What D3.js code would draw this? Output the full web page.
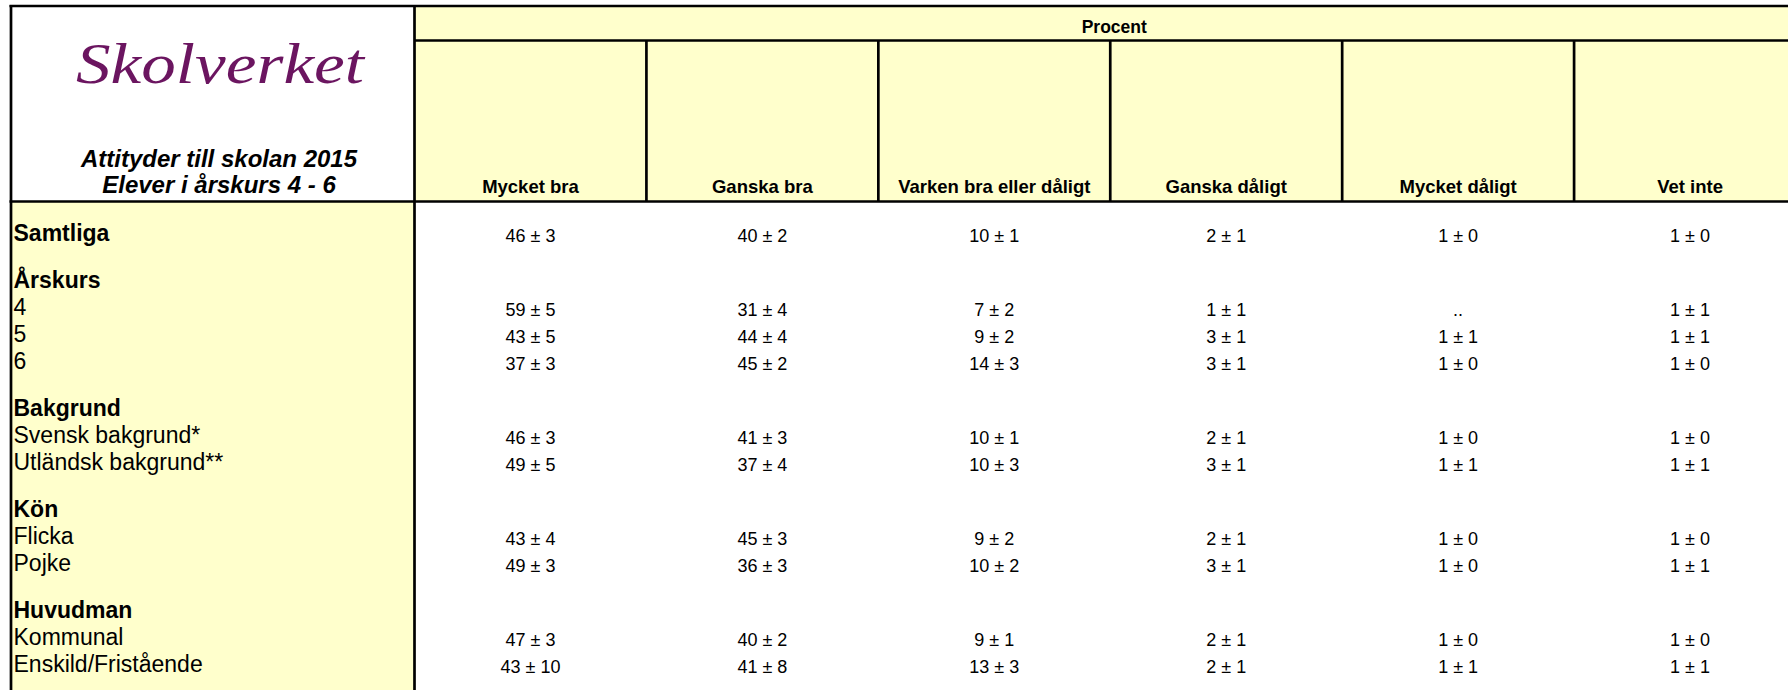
<!DOCTYPE html>
<html>
<head>
<meta charset="utf-8">
<script src="https://cdn.jsdelivr.net/npm/d3@7"></script>
<style>
    body { margin: 0; background: #fff; }
    svg { display: block; }
</style>
</head>
<body>
<div id="tableContainer"></div>
<script>
// kolumner (svarsalternativ)
const responses = ["Mycket bra", "Ganska bra", "Varken bra eller dåligt", "Ganska dåligt", "Mycket dåligt", "Vet inte"];

// rader
const rowLabels = ["Samtliga", "Årskurs", "4", "5", "6", "Bakgrund", "Svensk bakgrund*", "Utländsk bakgrund**",
    "Kön", "Flicka", "Pojke", "Huvudman", "Kommunal", "Enskild/Fristående"];
const boldRows = ["Samtliga", "Årskurs", "Bakgrund", "Kön", "Huvudman"];

// procent och felmarginal per kolumn, null = ingen uppgift, ".." = för få svar
const mycketBra       = [46, null, 59, 43, 37, null, 46, 49, null, 43, 49, null, 47, 43];
const mycketBraMoe    = [3, null, 5, 5, 3, null, 3, 5, null, 4, 3, null, 3, 10];
const ganskaBra       = [40, null, 31, 44, 45, null, 41, 37, null, 45, 36, null, 40, 41];
const ganskaBraMoe    = [2, null, 4, 4, 2, null, 3, 4, null, 3, 3, null, 2, 8];
const varken          = [10, null, 7, 9, 14, null, 10, 10, null, 9, 10, null, 9, 13];
const varkenMoe       = [1, null, 2, 2, 3, null, 1, 3, null, 2, 2, null, 1, 3];
const ganskaDaligt    = [2, null, 1, 3, 3, null, 2, 3, null, 2, 3, null, 2, 2];
const ganskaDaligtMoe = [1, null, 1, 1, 1, null, 1, 1, null, 1, 1, null, 1, 1];
const mycketDaligt    = [1, null, "..", 1, 1, null, 1, 1, null, 1, 1, null, 1, 1];
const mycketDaligtMoe = [0, null, null, 1, 0, null, 0, 1, null, 0, 0, null, 0, 1];
const vetInte         = [1, null, 1, 1, 1, null, 1, 1, null, 1, 1, null, 1, 1];
const vetInteMoe      = [0, null, 1, 1, 0, null, 0, 1, null, 0, 1, null, 0, 1];

const columnValues = [mycketBra, ganskaBra, varken, ganskaDaligt, mycketDaligt, vetInte];
const columnMoe = [mycketBraMoe, ganskaBraMoe, varkenMoe, ganskaDaligtMoe, mycketDaligtMoe, vetInteMoe];

const width = 1788;
const height = 690;
const yellow = "#ffffcc";
const labelFont = "'Liberation Sans', Arial, sans-serif";

const tableLeft = 11;
const split = 414.5;
const tableTop = 6;
const procentBottom = 40.5;
const headerBottom = 201.5;

const svg = d3.select("#tableContainer")
    .append("svg")
        .attr("width", width)
        .attr("height", height);

const x = d3.scaleBand()
    .domain(responses)
    .range([split, 1806]);

// radpositioner: gruppnamn får extra luft ovanför
const rowY = [];
rowLabels.forEach((r, i) => {
    if (i === 0) rowY.push(241);
    else rowY.push(rowY[i - 1] + (boldRows.includes(r) ? 47 : 27));
});
const y = d3.scaleOrdinal().domain(rowLabels).range(rowY);

// bakgrunder
svg.append("rect")
    .attr("x", split).attr("y", tableTop)
    .attr("width", width - split).attr("height", headerBottom - tableTop)
    .style("fill", yellow);
svg.append("rect")
    .attr("x", tableLeft).attr("y", headerBottom)
    .attr("width", split - tableLeft).attr("height", height - headerBottom)
    .style("fill", yellow);

// linjer
const lines = svg.append("g").style("stroke", "#000");
lines.append("line").attr("x1", tableLeft - 1.5).attr("x2", width).attr("y1", tableTop).attr("y2", tableTop).style("stroke-width", 2.4);
lines.append("line").attr("x1", tableLeft).attr("x2", tableLeft).attr("y1", tableTop - 1).attr("y2", height).style("stroke-width", 2.7);
lines.append("line").attr("x1", split).attr("x2", split).attr("y1", tableTop - 1).attr("y2", height).style("stroke-width", 2.7);
lines.append("line").attr("x1", split).attr("x2", width).attr("y1", procentBottom).attr("y2", procentBottom).style("stroke-width", 2.7);
lines.append("line").attr("x1", tableLeft - 1.5).attr("x2", width).attr("y1", headerBottom).attr("y2", headerBottom).style("stroke-width", 2.7);

lines.selectAll(".col-sep")
    .data(responses.slice(1))
    .enter()
    .append("line")
        .attr("class", "col-sep")
        .attr("x1", d => x(d)).attr("x2", d => x(d))
        .attr("y1", procentBottom).attr("y2", headerBottom)
        .style("stroke-width", 2.7);

// logga
svg.append("text")
    .text("Skolverket")
    .attr("x", 76).attr("y", 83)
    .attr("textLength", 288)
    .attr("lengthAdjust", "spacingAndGlyphs")
    .style("font-family", "'Liberation Serif', 'DejaVu Serif', serif")
    .style("font-style", "italic")
    .style("font-size", "58px")
    .style("fill", "#6b1560");

// titel
const titleLines = ["Attityder till skolan 2015", "Elever i årskurs 4 - 6"];
svg.selectAll(".title")
    .data(titleLines)
    .enter()
    .append("text")
        .attr("class", "title")
        .text(d => d)
        .attr("text-anchor", "middle")
        .attr("x", 219)
        .attr("y", (d, i) => 167 + i * 26)
        .style("font-family", labelFont)
        .style("font-weight", "bold")
        .style("font-style", "italic")
        .style("font-size", "24px")
        .style("fill", "#000");

// Procent
svg.append("text")
    .text("Procent")
    .attr("text-anchor", "middle")
    .attr("x", (split + 1806) / 2 + 4)
    .attr("y", 33)
    .style("font-family", labelFont)
    .style("font-weight", "bold")
    .style("font-size", "17.5px");

// kolumnrubriker
svg.selectAll(".col-head")
    .data(responses)
    .enter()
    .append("text")
        .attr("class", "col-head")
        .text(d => d)
        .attr("text-anchor", "middle")
        .attr("x", d => x(d) + x.bandwidth() / 2)
        .attr("y", 193)
        .style("font-family", labelFont)
        .style("font-weight", "bold")
        .style("font-size", "18.5px");

// radetiketter
svg.selectAll(".row-label")
    .data(rowLabels)
    .enter()
    .append("text")
        .attr("class", "row-label")
        .text(d => d)
        .attr("x", 13.5)
        .attr("y", d => y(d))
        .style("font-family", labelFont)
        .style("font-weight", d => boldRows.includes(d) ? "bold" : "normal")
        .style("font-size", "23px");

// celler
const cells = [];
responses.forEach((resp, c) => {
    rowLabels.forEach((row, r) => {
        const v = columnValues[c][r];
        if (v === null) return;
        const moe = columnMoe[c][r];
        cells.push({ resp, row, text: moe === null ? String(v) : v + " ± " + moe });
    });
});

svg.selectAll(".cell")
    .data(cells)
    .enter()
    .append("text")
        .attr("class", "cell")
        .text(d => d.text)
        .attr("text-anchor", "middle")
        .attr("x", d => x(d.resp) + x.bandwidth() / 2)
        .attr("y", d => y(d.row) + 0.5)
        .style("font-family", labelFont)
        .style("font-size", "18px");
</script>
</body>
</html>
